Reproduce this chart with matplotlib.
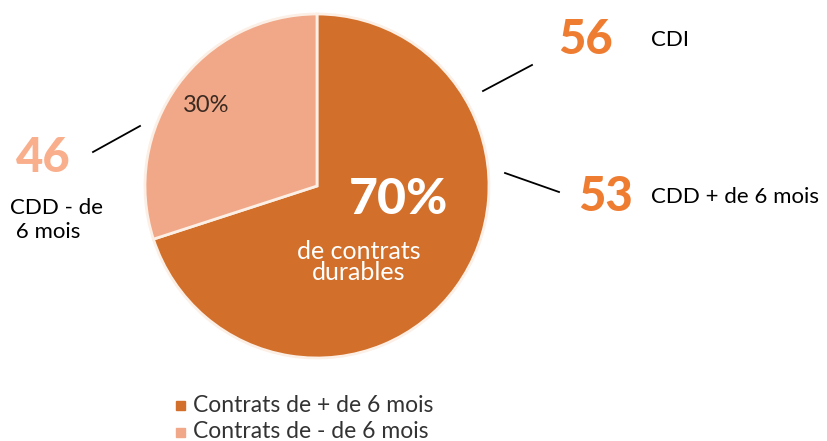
import matplotlib.pyplot as plt
from matplotlib.patches import Rectangle

plt.rcParams['font.family'] = ['Lato', 'DejaVu Sans']

# data
slices = [70, 30]
slice_colors = ['#D2702B', '#F0A888']
legend_labels = ['Contrats de + de 6 mois', 'Contrats de - de 6 mois']
counts = [56, 53, 46]
count_labels = ['CDI', 'CDD + de 6 mois', 'CDD - de\n 6 mois']
count_colors = ['#EE7D32', '#EE7D32', '#F9AF8C']

W, H = 828, 441
fig = plt.figure(figsize=(W / 100, H / 100), dpi=100)
ax = fig.add_axes([0, 0, 1, 1])

def py(y):
    # pixel row -> data y
    return H - y

ax.pie(slices, colors=slice_colors, startangle=90, counterclock=False,
       center=(317, py(186)), radius=172, frame=True,
       wedgeprops=dict(edgecolor='#FBEFE6', linewidth=2))
ax.set_xlim(0, W)
ax.set_ylim(0, H)
ax.axis('off')

ax.text(206, py(106), f'{slices[1]}%', fontsize=17, color='#3A2A22',
        ha='center', va='center')
ax.text(399, py(199), f'{slices[0]}%', fontsize=36, fontweight='black',
        color='white', ha='center', va='center')
ax.text(359, py(262), 'de contrats\ndurables', fontsize=18, color='white',
        ha='center', va='center', linespacing=0.9)

# callouts
ax.plot([483, 532], [py(91), py(65)], color='black', lw=1.3)
ax.plot([505, 559], [py(173), py(192)], color='black', lw=1.3)
ax.plot([93, 140], [py(152), py(126)], color='black', lw=1.3)

ax.text(586, py(40), str(counts[0]), fontsize=34, fontweight='black',
        color=count_colors[0], ha='center', va='center')
ax.text(651, py(40), count_labels[0], fontsize=16, color='black',
        ha='left', va='center')
ax.text(606, py(197), str(counts[1]), fontsize=34, fontweight='black',
        color=count_colors[1], ha='center', va='center')
ax.text(651, py(197), count_labels[1], fontsize=16, color='black',
        ha='left', va='center')
ax.text(43, py(158), str(counts[2]), fontsize=34, fontweight='black',
        color=count_colors[2], ha='center', va='center')
ax.text(10, py(220), count_labels[2], fontsize=16, color='black',
        ha='left', va='center', linespacing=1.3)

# legend
for i, (lab, col) in enumerate(zip(legend_labels, slice_colors)):
    yy = py(405 + i * 27)
    ax.add_patch(Rectangle((176, yy - 4.5), 9, 9, color=col))
    ax.text(193, yy, lab, fontsize=16.5, color='#333333', ha='left', va='center')

fig.savefig('out.png', dpi=100)
